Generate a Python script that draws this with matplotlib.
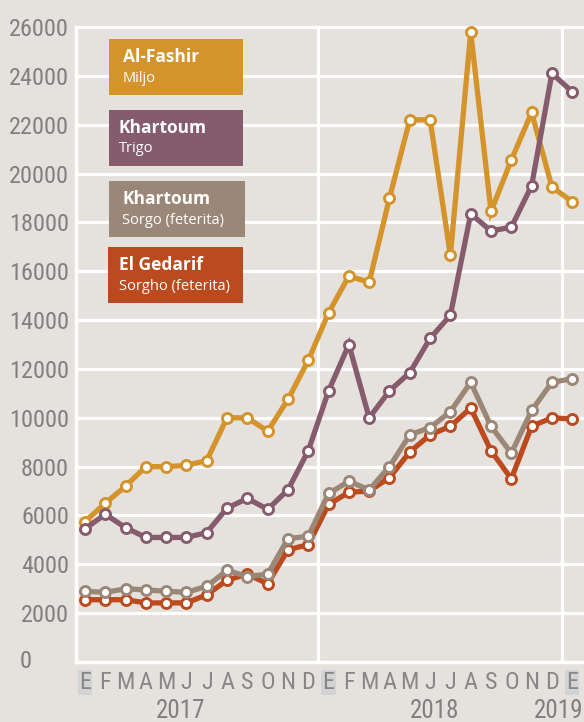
import matplotlib
matplotlib.use("Agg")
import matplotlib.pyplot as plt
import matplotlib.transforms as mtransforms
from matplotlib.patches import Rectangle

plt.rcParams['font.family'] = ['Open Sans', 'DejaVu Sans']
NARROW = ['Roboto Condensed', 'DejaVu Sans']

# meses ene-2017 .. ene-2019
months = ['E', 'F', 'M', 'A', 'M', 'J', 'J', 'A', 'S', 'O', 'N', 'D',
          'E', 'F', 'M', 'A', 'M', 'J', 'J', 'A', 'S', 'O', 'N', 'D', 'E']
years = ['2017', '2018', '2019']
year_pos = [4.7, 17.2, 24.55]

fashir_mijo = [5750, 6500, 7200, 8000, 8000, 8050, 8250, 10000, 10000, 9450, 10750, 12350,
               14300, 15800, 15550, 19000, 22200, 22200, 16650, 25800, 18450, 20550, 22500, 19450, 18850]
khartoum_trigo = [5450, 6050, 5500, 5100, 5100, 5100, 5300, 6300, 6700, 6250, 7050, 8650,
                  11100, 13000, 10000, 11100, 11850, 13250, 14200, 18350, 17650, 17800, 19500, 24100, 23350]
khartoum_sorgo = [2900, 2850, 3000, 2950, 2900, 2850, 3100, 3750, 3500, 3600, 5050, 5150,
                  6900, 7400, 7050, 8000, 9300, 9600, 10250, 11450, 9650, 8550, 10300, 11450, 11600]
gedarif_sorgho = [2550, 2550, 2550, 2420, 2420, 2420, 2750, 3350, 3600, 3200, 4600, 4800,
                  6450, 6950, 7000, 7550, 8600, 9300, 9650, 10400, 8650, 7500, 9650, 10000, 9950]

titles = ['Al-Fashir', 'Khartoum', 'Khartoum', 'El Gedarif']
subtitles = ['Miljo', 'Trigo', 'Sorgo (feterita)', 'Sorgho (feterita)']

BG = '#e5e1dd'
ORANGE = '#d5932b'
PURPLE = '#865b6e'
TAUPE = '#9b8778'
RED = '#bb4a1e'
GREY = '#808080'

W, H = 584, 722
fig = plt.figure(figsize=(W / 100, H / 100), dpi=100, facecolor=BG)
ax = fig.add_axes([76 / W, 1 - 662 / H, 1 - 76 / W, (662 - 27) / H])
ax.set_facecolor(BG)

x = list(range(len(months)))
ax.set_xlim(-0.44, 24.58)
ax.set_ylim(0, 26000)

yt = list(range(0, 26001, 2000))
for v in yt[1:]:
    ax.axhline(v, color='white', lw=2.3, zorder=1, clip_on=False)
for xv in [11.5, 23.5]:
    ax.axvline(xv, color='white', lw=2.3, zorder=1)

series = [(gedarif_sorgho, RED), (khartoum_sorgo, TAUPE), (fashir_mijo, ORANGE), (khartoum_trigo, PURPLE)]
for i, (vals, c) in enumerate(series):
    ax.plot(x, vals, color=c, lw=3.8, marker='o', ms=7.2, mfc='white', mec=c, mew=2.1,
            zorder=3 + i, clip_on=False, solid_joinstyle='miter')

for s in ['top', 'right']:
    ax.spines[s].set_visible(False)
for s in ['left', 'bottom']:
    ax.spines[s].set_color('white')
    ax.spines[s].set_linewidth(2.5)

tick_font = dict(family=NARROW, stretch='condensed')
ax.set_yticks(yt)
ax.set_yticklabels([''] + [str(v) for v in yt[1:]], color=GREY, fontsize=17.5, **tick_font)
# el cero va alineado a la izquierda
fig.text(20 / W, 1 - 662 / H, '0', color=GREY, fontsize=17.5, ha='left', va='center', **tick_font)
ax.set_xticks(x)
ax.set_xticklabels(months, color='#878787', fontsize=17.5, **tick_font)
ax.tick_params(axis='both', length=0)
ax.tick_params(axis='y', pad=5)
ax.tick_params(axis='x', pad=6.5)
for i, lab in enumerate(ax.get_xticklabels()):
    if months[i] == 'E':
        lab.set_bbox(dict(facecolor='#d2d3d5', edgecolor='none', pad=0.8))

trans = mtransforms.blended_transform_factory(ax.transData, fig.transFigure)
for i, (yr, xp) in enumerate(zip(years, year_pos)):
    ax.text(xp, 1 - 711 / H, yr, transform=trans, ha='right' if i == 2 else 'center',
            va='center', color=GREY, fontsize=18, clip_on=False, **tick_font)

# cajas de leyenda
boxes = [(109, 39, 243, 95), (109, 110, 243, 166), (109, 181, 245, 237), (108, 247, 243, 303)]
colors = [ORANGE, PURPLE, TAUPE, RED]
text_x = [123, 119, 122, 119]
for (x0, y0, x1, y1), c, tx, t, st in zip(boxes, colors, text_x, titles, subtitles):
    fig.patches.append(Rectangle((x0 / W, 1 - y1 / H), (x1 - x0) / W, (y1 - y0) / H,
                                 transform=fig.transFigure, facecolor=c, edgecolor='none', zorder=10))
    fig.text(tx / W, 1 - (y0 + 18) / H, t, color='white', fontsize=12.5, fontweight='bold',
             va='center', ha='left', zorder=11)
    fig.text(tx / W, 1 - (y0 + 39) / H, st, color='white', fontsize=10.5,
             va='center', ha='left', zorder=11)

fig.savefig('out.png', dpi=100, facecolor=BG)
